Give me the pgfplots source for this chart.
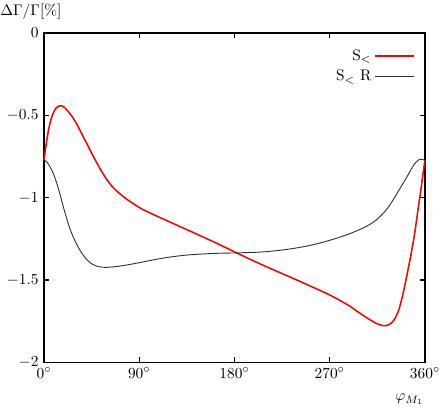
\documentclass[border=0pt]{standalone}
\usepackage{pgfplots}
\pgfplotsset{compat=1.18}
\definecolor{sred}{HTML}{FF0000}
\definecolor{sgray}{HTML}{333333}

\begin{document}
\begin{tikzpicture}
\begin{axis}[
  name=ax,
  scale only axis, width=248pt, height=214.5pt,
  xmin=0, xmax=360, ymin=-2, ymax=0,
  xtick={0,90,180,270,360},
  xticklabels={$0^\circ$,$90^\circ$,$180^\circ$,$270^\circ$,$360^\circ$},
  ytick={-2,-1.5,-1,-0.5,0},
  yticklabels={$-2$,$-1.5$,$-1$,$-0.5$,$0$},
  tick align=inside, major tick length=3.5pt,
  axis line style={line width=0.9pt}, every tick/.style={black, line width=0.9pt},
  legend plot pos=right, legend cell align=right,
  legend style={draw=none, fill=none, at={(rel axis cs:0.985,0.97)}, anchor=north east,
    row sep=1pt, font=\normalsize},
  legend image code/.code={\draw[#1] (0pt,0pt) -- (25pt,0pt);},
  clip=false
]
\addplot[sred, line width=1pt, smooth, tension=0.5] coordinates {
(0,-0.77) (2,-0.68) (4,-0.60) (6,-0.54) (8,-0.50) (10,-0.47) (12,-0.452)
(14,-0.444) (16,-0.442) (18,-0.445) (20,-0.455) (23,-0.478) (26,-0.502)
(28,-0.52) (32,-0.565) (36,-0.615) (40,-0.665) (44,-0.716) (48,-0.765)
(52,-0.812) (56,-0.856) (60,-0.895) (64,-0.928) (68,-0.955) (72,-0.977)
(76,-0.998) (80,-1.017) (85,-1.038) (90,-1.059) (95,-1.076) (100,-1.092)
(110,-1.121) (120,-1.15) (130,-1.179) (140,-1.208) (150,-1.237) (160,-1.267)
(170,-1.297) (180,-1.328) (190,-1.359) (200,-1.389) (210,-1.418) (220,-1.446)
(230,-1.474) (240,-1.502) (250,-1.531) (260,-1.56) (270,-1.59) (280,-1.624)
(290,-1.662) (295,-1.685) (300,-1.707) (305,-1.728) (310,-1.748) (315,-1.765)
(320,-1.775) (323,-1.776) (326,-1.77) (329,-1.755) (332,-1.728) (335,-1.685)
(338,-1.615) (341,-1.53) (344,-1.435) (347,-1.335) (350,-1.225) (353,-1.09)
(356,-0.955) (358,-0.86) (360,-0.77)
};
\addlegendentry{S$_<$}
\addplot[sgray, line width=0.6pt, smooth, tension=0.5] coordinates {
(0,-0.77) (3,-0.785) (6,-0.815) (9,-0.855) (12,-0.91) (15,-0.975) (18,-1.048)
(21,-1.115) (24,-1.178) (27,-1.228) (30,-1.27) (34,-1.318) (38,-1.356)
(42,-1.385) (46,-1.404) (50,-1.415) (55,-1.421) (60,-1.422) (70,-1.416)
(80,-1.406) (90,-1.394) (100,-1.381) (110,-1.369) (120,-1.359) (130,-1.351)
(140,-1.345) (150,-1.341) (160,-1.338) (170,-1.336) (180,-1.335) (190,-1.333)
(200,-1.331) (210,-1.327) (220,-1.321) (230,-1.313) (240,-1.303) (250,-1.291)
(260,-1.276) (270,-1.258) (280,-1.238) (290,-1.215) (300,-1.188) (305,-1.172)
(310,-1.153) (315,-1.129) (320,-1.098) (325,-1.06) (330,-1.012) (335,-0.958)
(340,-0.905) (345,-0.85) (348,-0.815) (351,-0.787) (354,-0.77) (356,-0.766)
(358,-0.768) (360,-0.775)
};
\addlegendentry{S$_<$ R}
\node[anchor=south west, inner sep=0pt, xshift=-28.6pt, yshift=8.5pt] at (rel axis cs:0,1) {$\Delta\Gamma/\Gamma[\%]$};
\node[anchor=center, inner sep=0pt, xshift=-10pt, yshift=-24pt] at (rel axis cs:1,0) {$\varphi_{M_1}$};
\end{axis}
\pgfresetboundingbox
\path[use as bounding box] ([xshift=-28.6pt,yshift=-29.9pt]ax.south west) rectangle ([xshift=9.75pt,yshift=21.45pt]ax.north east);
\end{tikzpicture}
\end{document}
